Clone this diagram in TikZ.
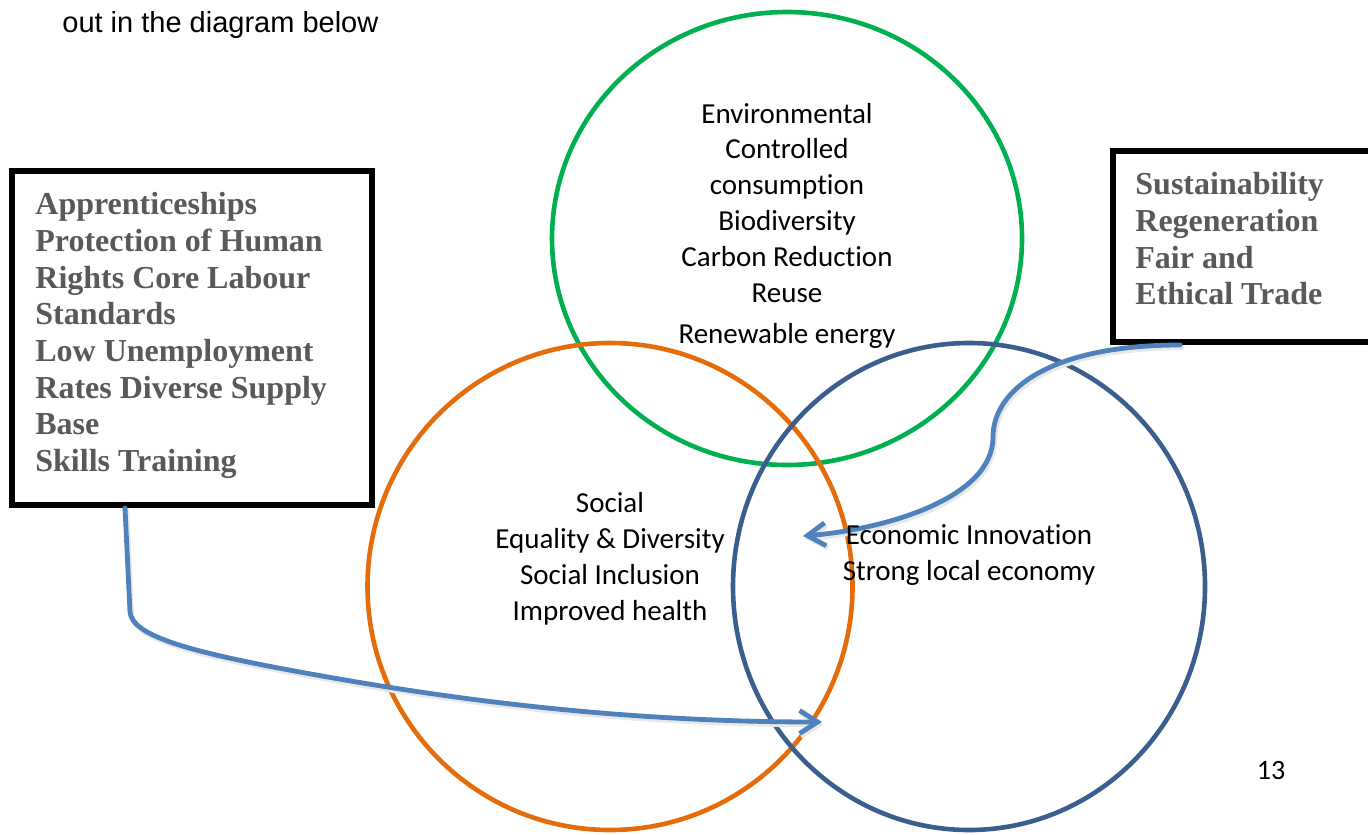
\documentclass[tikz,border=0pt]{standalone}
\usepackage{fontspec}
\setmainfont{Carlito}[Ligatures=NoCommon]
\newfontfamily\tnrfont{Liberation Serif}
\newfontfamily\arialfont{Liberation Sans}
\usetikzlibrary{arrows.meta,calc,shapes.geometric}
\definecolor{envgreen}{HTML}{00B050}
\definecolor{socorange}{HTML}{E46C0A}
\definecolor{ecoblue}{HTML}{3A5F8E}
\definecolor{arrowblue}{HTML}{4F81BD}
\definecolor{boxgray}{HTML}{595959}
\begin{document}
\begin{tikzpicture}[x=0.5pt,y=-0.5pt,
  ring/.style={ellipse,draw,line width=2.3pt,inner sep=0pt,minimum width=#1},
  boxframe/.style={draw=black,line width=3pt,fill=white,inner sep=0pt},
  boxtext/.style={font=\tnrfont\bfseries\fontsize{16pt}{18.35pt}\selectfont,text=boxgray,align=left,inner sep=0pt},
  circtext/.style={font=\fontsize{14.5pt}{17.9pt}\selectfont,align=center,inner sep=0pt},
  link/.style={draw=arrowblue,line width=2.4pt,line cap=round,-{Straight Barb[length=9pt,width=11.5pt]}},
  linkshadow/.style={draw=black!9,line width=2.6pt,line cap=round,-{Straight Barb[length=9pt,width=11.5pt]},transform canvas={shift={(0.8pt,-1.3pt)}}}
]
\useasboundingbox (0,0) rectangle (1368,834);
\clip (0,0) rectangle (1368,834);
\fill[white] (0,0) rectangle (1368,834);

% intro text
\node[anchor=base west,inner sep=0pt,font=\arialfont\fontsize{14.5pt}{17pt}\selectfont] (intro) at (62,33) {out in the diagram below};

% circles
\node[ring=235pt,minimum height=226.5pt,draw=envgreen] (env) at (787,238.5) {};
\node[ring=242.5pt,minimum height=243.5pt,draw=socorange] (soc) at (610,586.5) {};
\node[ring=236pt,minimum height=243.5pt,draw=ecoblue] (eco) at (969,586.5) {};

% arrow endpoints
\coordinate (ltip) at (822,722);
\coordinate (rtip) at (803,536);

% boxes
\node[boxframe,minimum width=180pt,minimum height=167pt] (lbox) at (192,338) {};
\node[boxframe,minimum width=143.5pt,minimum height=95.5pt] (rbox) at (1256.5,246.5) {};

% arrows (shadow then line)
\draw[linkshadow] ($(lbox.south west)+(116,0)$) -- (130,612) .. controls (132,636) and (190,652) .. (300,672) .. controls (420,694) and (600,722) .. (ltip);
\draw[link] ($(lbox.south west)+(116,0)$) -- (130,612) .. controls (132,636) and (190,652) .. (300,672) .. controls (420,694) and (600,722) .. (ltip);
\draw[linkshadow] ($(rbox.south west)+(70,0)$) .. controls (1050,345) and (993,390) .. (993,437) .. controls (993,500) and (880,530) .. (rtip);
\draw[link] ($(rbox.south west)+(70,0)$) .. controls (1050,345) and (993,390) .. (993,437) .. controls (993,500) and (880,530) .. (rtip);

% circle texts (base anchor = last line's baseline)
\node[circtext,anchor=base] (envtext) at (787,343) {Environmental\\Controlled\\consumption\\Biodiversity\\Carbon Reduction\\Reuse\\[2.6pt]Renewable energy};
\node[circtext,anchor=base] (soctext) at (610,620) {Social\\Equality \& Diversity\\Social Inclusion\\Improved health};
\node[circtext,anchor=base] (ecotext) at (969,580) {Economic Innovation\\Strong local economy};

% box texts
\node[boxtext,anchor=north west] (ltext) at (35,192) {Apprenticeships\\Protection of Human\\Rights Core Labour\\Standards\\Low Unemployment\\Rates Diverse Supply\\Base\\Skills Training};
\node[boxtext,anchor=north west] (rtext) at (1135,172) {Sustainability\\Regeneration\\Fair and\\Ethical Trade};

% page number
\node[anchor=base,inner sep=0pt,font=\fontsize{14pt}{17pt}\selectfont] (pagenum) at (1271,779) {13};
\end{tikzpicture}
\end{document}
